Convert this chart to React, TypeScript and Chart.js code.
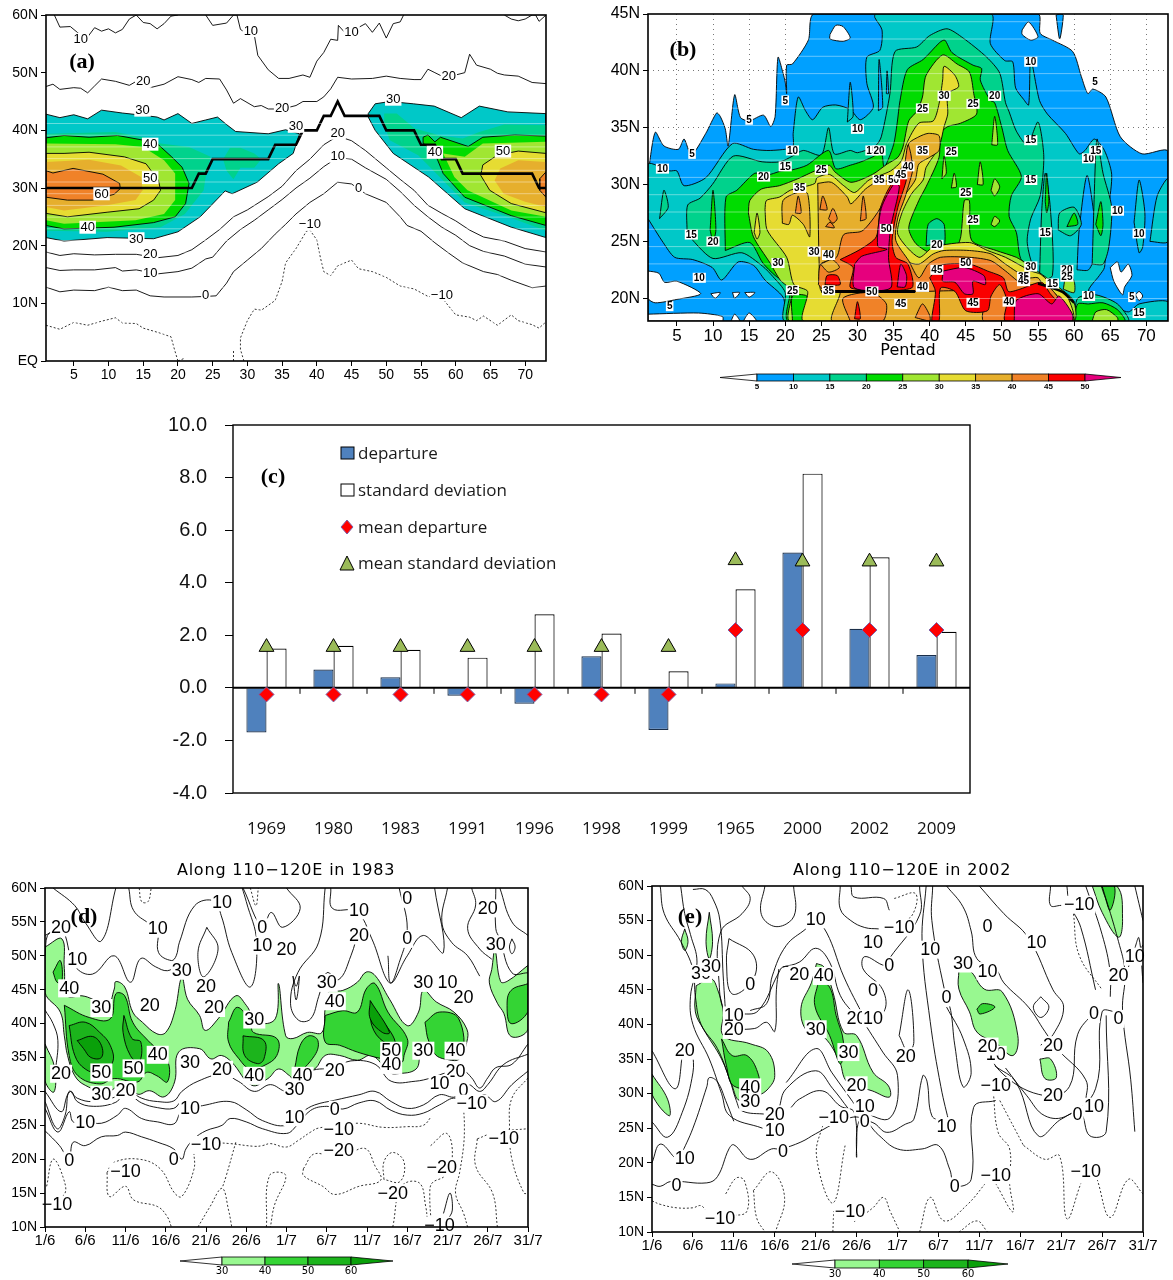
import React, { useEffect, useRef } from "react";
import { Chart, registerables } from "chart.js";
Chart.register(...registerables);

type P = number[][];

// ---------- palette ----------
const WHITE = "#ffffff";
const C5 = "#00a0ff", C10 = "#00c8c8", C15 = "#00d28c", C20 = "#00dc00", C25 = "#a0e632",
  C30 = "#e6dc32", C35 = "#e6af2d", C40 = "#f08228", C45 = "#fa0000", C50 = "#e6007d";
const G30 = "#98f890", G40 = "#34d434", G50 = "#1cb41c", G60 = "#0aa00a";

// ---------- panel (c) ----------
const cYears = ["1969", "1980", "1983", "1991", "1996", "1998", "1999", "1965", "2000", "2002", "2009"];
const cDeparture = [-1.7, 0.7, 0.4, -0.3, -0.6, 1.2, -1.6, 0.17, 5.15, 2.25, 1.25];
const cStd = [1.5, 1.6, 1.45, 1.15, 2.8, 2.07, 0.63, 3.75, 8.15, 4.97, 2.13];
const cMeanDep = [-0.25, -0.25, -0.25, -0.25, -0.25, -0.25, -0.25, 2.2, 2.2, 2.2, 2.2];
const cMeanStd = [1.55, 1.55, 1.55, 1.55, 1.55, 1.55, 1.55, 4.85, 4.8, 4.8, 4.8];
const cLegend = ["departure", "standard deviation", "mean departure", "mean standard deviation"];

// ---------- panel (a): climatological section, pentad vs latitude ----------
const a30L: P = [[1,42.8],[3,42.2],[5,42.7],[7,42],[9,43.5],[12,43],[15,42.6],[17,42.3],[18,41.8],[20,42.9],[22,41.2],[24,41.8],[25.7,42.3],[27,41],[28.3,39.8],[33,39.4],[35.5,40.1],[37.5,39.4],[36.6,36],[34.5,34.2],[31.4,31],[27.8,29],[26.8,29.5],[23.2,25],[20,22.4],[16.5,21.2],[9.8,21.4],[3.6,20.8],[1,21.4]];
const a35L: P = [[1,39.4],[11,39.7],[15,38.8],[17.5,37.7],[21.6,37.1],[24.7,35.4],[24,32],[23.7,29.6],[21,25.5],[17.5,23.2],[9.8,22.4],[1,22.6]];
const a35Patch: P = [[26.5,35],[27.5,37],[29,37],[31,36],[32,35],[31,33.5],[29,33.5],[28,31.5],[27,33]];
const a40L: P = [[1,38.7],[3.6,39.1],[7.2,38.8],[11.3,39.1],[15,38.3],[17,37.7],[19.1,35.4],[20.6,33.6],[21.6,30.8],[21.1,27.3],[19.6,25],[16.5,24],[10.8,23.2],[3.6,22.9],[1,23.5]];
const a45L: P = [[1,37.7],[11,37.6],[15,37.1],[18,34.8],[19.6,32.5],[19.6,27.9],[18,25.5],[13.9,24.4],[3.6,23.8],[1,24.4]];
const a50L: P = [[1,36],[3.6,36],[7.2,36.2],[12.3,35.4],[15.4,34.2],[17.2,31.3],[17.5,29.6],[16.5,27.9],[14.4,26.4],[9.8,25.8],[4.1,25],[1,25.6]];
const a55L: P = [[1,34.5],[7.2,34.9],[11.8,33.9],[14.7,31.9],[14.9,29.6],[13.9,27.9],[9.8,27],[3.6,26.1],[1,26.7]];
const a60L: P = [[1,33],[2,32.6],[4.9,33.4],[9.2,32.4],[11.6,30.8],[11.7,29.9],[10.8,28.9],[7.7,27.9],[4.1,27.9],[1,28.4]];
const a30R: P = [[47.4,42.9],[48.4,44.6],[50.5,45],[53.9,44.6],[56.9,44.2],[60.8,42.2],[63.4,44.2],[67.5,43.2],[73,42.9],[73,21.4],[68,23.2],[61.3,26.4],[56.1,31.9],[51,36],[48.4,40],[47.4,42.3]];
const a35R: P = [[49.7,42.9],[51.5,42.9],[54.1,40.3],[57.7,39.1],[61,38.6],[63.4,39.7],[67,41],[73,40.9],[73,22.6],[68,24.8],[61.3,27.5],[57.7,31.9],[54.6,35.7],[50.5,38.3],[49.7,41]];
const a40R: P = [[55.3,38.8],[56,39.2],[57,38],[57.8,38.8],[61.8,37.2],[63.9,38.8],[68.5,39.2],[73,39],[73,23.5],[68,25.2],[61.3,28.4],[58.2,32.5],[57,36],[55.3,37.8]];
const a45R: P = [[58.2,36],[61.3,35.4],[63.9,37.7],[73,38],[73,25],[68,26.1],[61.7,29.6],[59.8,31.9]];
const a50R: P = [[73,36],[69,36.4],[66,35.7],[63.9,34],[63.6,32.2],[64.9,29.6],[68,27.3],[73,25.7]];
const a55R: P = [[73,34.5],[69,34.8],[66.4,33.4],[65.6,31.3],[66.9,29],[70,27.6],[73,26.7]];
const a60R: P = [[73,32.8],[72.1,31.6],[72.1,29.6],[73,28.4]];
const aLines10: P[] = [
  [[2.2,60],[3,57.9],[4.5,58],[6,56.5],[7,56.2],[8,57.8],[9,57.2],[10,57.6],[11,56.9],[12,57.5],[13,59.3],[14,60],[15,58.7],[16,58.5],[17,57.6],[18,58.5],[19,59.8],[20,60]],
  [[24,60],[25,58.2],[27,58.6],[28,60],[28.5,60],[29,57.5],[30,56.7],[31,56.5],[31.5,53],[33,50.5],[34.5,49],[36,49],[38,49.6],[39,49.2],[40,52],[41,53.5],[42,55.8],[43,55.6],[43.1,58.2],[44,57],[45.5,57.5],[47,58.5],[48,57],[49,58.6],[50,56],[51,58.5],[52,58.8],[52.5,60]],
  [[67,60],[68,59.3],[69,59],[70,59.3],[71,60],[71.5,60],[72,58.9],[73,60]],
  [[1,16.2],[3,15.7],[5,15.8],[8,15.8],[11,16.2],[12,15.6],[14,15.8],[17,15.1],[20,15.5],[22,16.1],[24,17.7],[25,18],[27,20.8],[29,22.8],[31,24.4],[33,26.2],[35,28],[37,30],[39,31.7],[41,33.7],[43,35.3],[45,35],[47,33.5],[50,31.5],[52,29.4],[54,27],[56,25],[58,23.2],[60,21.8],[62,20],[64,19],[67,18.2],[70,16.8],[73,16.3]],
];
const aLines20: P[] = [
  [[1,47.6],[2,48],[3,47.1],[5,47.4],[6,47.3],[7,46.5],[8,47.7],[9,48.9],[11,48.5],[13,47.8],[14,48.5],[15.5,49],[16,47.4],[18,48],[20,49.3],[22,48.8],[23,48.3],[24,49],[26,48.9],[27,47],[28,44.7],[29,45.5],[31,44.1],[32,44.3],[33,43.7],[35,43.7],[37,44.3],[38,45],[40,45],[41,45.8],[42,47.2],[43,49.2],[45,48.9],[48,49],[50,49.4],[52,49],[54,48.8],[55,48.8],[56,50.6],[57,50],[58,49.4],[60,49.6],[61.3,50],[62,53.2],[63,51.3],[65,50.6],[66,49.9],[67,49.6],[69,49.4],[71,48.3],[73,48.1]],
  [[1,18.9],[3,18.3],[5,18.6],[8,18.4],[11,18.5],[14,18.5],[17,17.9],[20,18.3],[22,19.3],[24,21],[26,22.8],[28,25],[30,26.2],[33,28.5],[35,30.3],[37,33],[39,35],[41,37.5],[43,39],[45,38.2],[47,36.5],[50,33.5],[52,31.5],[54,29.6],[56,27],[58,25.6],[60,24.3],[62,22.7],[64,21.5],[67,20.8],[70,19.5],[73,18.9]],
];
const aLine0: P = [[1,12.8],[3,12],[5,12.3],[8,12.2],[10,12.8],[12,12.2],[14,12.3],[16,11.3],[18,11.1],[22,11.1],[24,11.2],[25.5,11.3],[27,13.5],[28,15.5],[30,17.5],[32,19.5],[34,22],[35.5,23.7],[37,25.5],[39,27.5],[41,29],[43,31],[45,30.7],[47,29],[50,27.5],[52,25],[53,23.5],[55,22.5],[57,20.5],[59,18.7],[61,17],[64,15.5],[66,15],[68,14],[71,12.7],[73,13]];
const aNeg: P[] = [
  [[1,6.2],[3,5.5],[5,6.7],[7,6.2],[9,6.9],[11,7.5],[12,6.6],[14,6.5],[15,5.7],[17,5],[19,4.2],[19.5,2],[20,0]],
  [[29.5,0],[29,2],[29,4],[30,7],[31,9],[32,8.8],[34,10.5],[35,13.8],[35.5,17],[37,19.5],[38.5,22.5],[39,22.7],[40,21],[40.5,18],[41,15.5],[42,14.8],[43,16.5],[45,17.5],[46,16],[48,15.5],[50,14.5],[52,13],[54,12.5],[56,11.2],[58,11],[60,8],[62,7.6],[63,7],[64,7.8],[66,6.2],[68,8],[69,7],[71,6.3],[72,5.7],[73,6.8]],
  [[28,0],[28,2]],
  [[20,0],[21,0.5]],
];
const aOnset: P = [[1,30],[22,30],[23,32.5],[24,32.5],[25,35],[33,35],[34,37.5],[37,37.5],[38,40],[40,40],[41,42.5],[42,42.5],[43,45],[44,42.5],[49,42.5],[50,40],[54,40],[55,37.5],[57,37.5],[58,35],[60,35],[61,32.5],[71,32.5],[72,30],[73,30]];
const aLabels: (number | string)[][] = [[6,55.8,"10"],[30.5,57.3,"10"],[45,57.1,"10"],[15,48.5,"20"],[35,43.9,"20"],[59,49.4,"20"],[14.9,43.5,"30"],[51,45.4,"30"],[37,40.7,"30"],[16,37.6,"40"],[57,36.2,"40"],[7,23.2,"40"],[16,31.8,"50"],[66.8,36.4,"50"],[9,29,"60"],[14,21.2,"30"],[16,18.5,"20"],[16,15.3,"10"],[24,11.5,"0"],[43,39.5,"20"],[43,35.5,"10"],[46,30,"0"],[39,23.7,"−10"],[58,11.5,"−10"]];
const aLatTicks = [0, 10, 20, 30, 40, 50, 60];
const aPentTicks = [5,10,15,20,25,30,35,40,45,50,55,60,65,70];

// ---------- panel (b): pentad vs latitude ----------
const b5: P = [[1,30.9],[2,34.6],[3.2,33.4],[5.2,33.1],[6,34],[7,32.6],[9,34.5],[10.5,36.3],[11,36],[11.7,34.9],[12.1,33.4],[13,37.9],[13.8,35.9],[15,35.6],[17,36.1],[18,35.1],[18.6,36],[19,41.2],[19.7,39.8],[20,39],[20.2,38],[20.2,40.5],[21,40.6],[23.2,42.7],[24,45],[55,45],[55.3,43.3],[57,42.7],[59.8,41.7],[61,39.5],[61.9,38],[62.6,38.4],[64.4,37.7],[66.4,34.2],[69.4,32.7],[73,32.9],[73,18],[1,18]];
const bWhites: P[] = [
  [[1,22.4],[2.5,22.2],[3.3,21.4],[5,21.5],[8.3,20.4],[5,19.9],[2,19.6],[1,20]],
  [[1,18.6],[8,18.7],[11.3,18.4],[11.3,18],[1,18]],
  [[26.2,43.2],[27,44],[28,43.9],[29,42.9],[28,42.6],[26.2,42.8]],
  [[52.8,43.6],[53.7,44.3],[55,43],[54,42.7],[52.8,43.2]],
  [[65,22.7],[66,23.2],[66.5,22.3],[67.5,23],[68,22],[67,21],[66.7,20.3],[65.5,21.5]],
  [[9.7,20.4],[11,20.5],[10.3,20]],[[12.7,20.5],[13.7,20.5],[13,20]],[[14.4,20.5],[15.8,20.5],[15,20.1]],
  [[12.5,18],[13,18.6],[13.7,18]],[[14.2,18],[15,18.7],[16,18]],[[68.5,20.3],[69,20.6],[69.5,20.2],[69,19.8]],
];
const bBlueBits: P[] = [[[57.5,44.9],[58,45],[58.5,44.9],[58,42.8]],[[32.9,36.5],[33,41],[33.5,36.8]],[[34,38],[34.1,40],[34.3,38]],[[60.4,22.5],[60.7,26],[61.8,30.8],[63,26],[63,24],[62,22.5]]];
const b10: P = [[1,27],[1,31.8],[4,31.2],[5,31.2],[6,29.9],[9,30.6],[12.7,33.6],[15.6,33.1],[18,33],[21,33.3],[21.1,34.5],[21.8,37.7],[22.8,36.5],[23.8,35.7],[25.2,36.8],[27,37],[29,36.6],[30.4,35.7],[32.2,36.8],[31.3,38.9],[31.3,41.2],[33.1,41.8],[33.4,43.6],[32.4,44.7],[32.5,45],[48.5,45],[48.4,42.4],[50.4,40.9],[51.5,40.8],[51.9,38.5],[53,37.5],[53.7,37],[54,41],[55.2,37.4],[56.3,36.2],[58.8,34.5],[60.7,32.7],[61.5,33],[62.8,34],[64.2,33],[65.2,30.9],[64.8,28],[64.4,25],[64.2,22.7],[63.5,22],[62,20.6],[65,19.5],[67.5,18.8],[69,19.5],[73,19.7],[73,18],[20.7,18],[19.7,20.1],[17.2,21.6],[15.6,22.9],[13.5,23.2],[11.2,21.6],[9.9,22.7],[7.2,23.4],[4.7,23.6],[3.1,24.9]];
const b10Bits: P[] = [[[68.3,26.7],[69,30.4],[69.8,27.5],[69.5,24.5],[69,24]],[[70.5,25],[71.5,29],[73,30.5],[73,25]],[[28.6,35.5],[29,39],[29.4,36]]];
const b15: P = [[6.4,26],[6.5,28.2],[8.2,28.8],[9.9,30],[12.8,32.5],[16.8,32],[19.3,32],[21,32.5],[22.5,33],[25,32.6],[26,35],[26.8,32.7],[29,33],[30,32.8],[32.5,33.4],[33.3,34.2],[34.5,38],[35.2,41.7],[38.2,42.1],[40,43.1],[42.4,43.7],[44.6,42.9],[47.9,41.2],[49.7,39.8],[50.5,37.2],[51,36.4],[52,34.7],[53.5,33.5],[55,35.5],[55.8,32.5],[55.3,29],[54,27],[53.5,25],[54.2,23],[55.5,21.7],[57,21],[56.5,19],[56,18],[20,18],[20,20.5],[18.3,21.9],[16.9,22.8],[14,24],[10,23.5],[7.2,25.1]];
const b15Bits: P[] = [[[2.6,27],[3.2,29.5],[3.8,28]],[[62.5,23],[63,33],[63.2,34],[64,31],[65.2,28],[64.8,24.5],[64,23]],[[55.2,21.5],[55.5,27.5],[56,31],[56.7,28],[57,22]],[[57.8,26],[58,27.5],[60,28],[61,26.5],[59.5,25.5]],[[60,18],[60.5,20],[63,20.3],[66,19.5],[67.5,18]]];
const b20: P = [[11.7,24.2],[11.8,28.9],[13.3,29.5],[15.8,31],[17.3,30.8],[19.5,31.2],[21,31.3],[23,31.7],[26,33],[27,31.4],[29,31.7],[30.5,32],[32,32.4],[33.3,32.8],[33.7,31.5],[35,33.5],[35.5,35.4],[35.9,37.4],[36.9,40.1],[39.1,41],[41.4,42.5],[42.1,42.7],[43.1,41.6],[46,40.5],[47.2,40.2],[47,39.2],[48.4,37.4],[49,37.2],[50,35],[50.8,33],[52.7,30.7],[51.3,29],[51,27.2],[52,25.8],[52.6,23.5],[54,22.8],[56.2,21.5],[57,21],[59.5,20],[60.5,18],[20.5,18],[20.7,21],[18.6,22],[16.9,23.1],[15.1,24.9]];
const b20Bits: P[] = [[[9.6,26],[10,29.5],[10.4,26],[10,25]],[[59,26.3],[60,27.5],[60.5,26.5]],[[63,26.5],[63.7,28.5],[64,26.5],[63.7,25.5]],[[56,28.5],[56.2,31],[56.5,28.5],[56.2,27.5]],[[60,18],[60.5,19.5],[62,19.5],[64,19.6],[66,19],[67,18]]];
const b15Holes: P[] = [[[39.5,24.6],[39.8,26.5],[41,27],[42,26.5],[42,24.5],[41,24.8]],[[21.5,18.5],[22.5,19.8],[24,19.6],[24,18.4]]];
const b25: P = [[14.9,27.5],[15.1,28.6],[16.7,29.6],[19.2,29.9],[21.7,30.5],[24.1,31.2],[26.1,31.7],[26.9,31.1],[29.1,30.2],[32.1,30.9],[34.1,31.8],[35.6,32.4],[36.3,33.3],[37.1,35.6],[38.3,36.5],[39,37.7],[39.5,39.6],[41.8,41.4],[43.8,40.6],[45.5,39.9],[46.1,38],[46.5,36.2],[44.3,35.4],[42.5,35.1],[41.5,34.5],[41.3,32.4],[39.5,29.8],[38.5,28.6],[37.1,26.2],[38.1,24.8],[40.5,23.9],[43.5,24.3],[44.3,25.4],[44.8,28.6],[45.5,28.6],[45.8,25.1],[49.2,24.2],[52,23.6],[53.5,23],[56.2,21.8],[57.4,21.2],[59.9,19.8],[59.9,18],[20.7,18],[20.9,20.6],[19.3,21.6],[17.9,23.1],[15.6,25.4]];
const b25Bits: P[] = [[[46.6,30],[47,32],[47.4,30]],[[48.5,29.5],[49,30.5],[49.7,29.8],[49,29]],[[48.5,26.5],[49,27.2],[49.7,26.8],[49,26.3]],[[48.6,33.5],[49,36],[49.4,33.5]],[[43,29.7],[43.4,31],[43.7,29.8]],[[41.7,30.5],[42,32.5],[42.3,31]],[[58.5,20.8],[59,22.3],[60,21.5],[60,20.5]],[[62.5,18],[63,18.8],[64.5,19],[66,18.3],[66,18]]];
const b20Patches: P[] = [[[21,18],[21,20.2],[23,20.2],[23.5,19],[26,18.5],[26,18]],[[37,18],[37,20],[38.5,20],[38.5,18]]];
const b30: P = [[17.2,27.8],[17.4,28.6],[19.2,28.9],[20.7,29.5],[22.6,29.8],[24.1,30.1],[24.4,30.6],[26.1,30.9],[28.1,29.9],[29.6,29.3],[31.6,30.4],[34.6,31.2],[36.1,32.1],[36.8,33.6],[38.5,35.4],[40.5,35.6],[41.3,37.1],[41.8,39.2],[42,40.4],[43.5,39.6],[44,38.6],[42.5,38],[42.5,36.2],[42,35.1],[41.3,33.3],[39.5,31.5],[39.1,30.4],[37.5,29.2],[36.1,27.4],[35.6,25.6],[38.5,23.6],[40.5,24.5],[45.5,24.9],[48,24.2],[50.5,23.6],[54,22.4],[55.4,22.1],[57.4,20.9],[58.9,20.4],[59.7,18],[22.6,18],[23.1,20.6],[21.2,21.2],[20.2,23.6],[17.5,26]];
const b30Bits: P[] = [[[15.7,25.8],[16.1,27.5],[16.5,25.8],[16.1,25.2]]];
const b35Blob: P = [[19.6,26.6],[19.7,28.6],[21.7,29.3],[23.1,29.2],[23.4,25.4],[22.5,26.5],[21,27.3],[20.5,26.5]];
const b35: P = [[24.5,30.1],[26.4,30.2],[28.6,28.9],[29.1,28.3],[31.1,29.6],[32.6,30.2],[34.6,30.4],[36.6,31.5],[37.1,33.6],[38.5,34.2],[39.8,34.5],[41.3,34.3],[41.3,33],[40,32.4],[38.5,31.8],[38,30.4],[36.1,28.6],[35.1,26.2],[34.8,24.5],[36.6,23.3],[38.5,23],[40.5,23.9],[42,24.2],[45.5,24.2],[48.5,23.9],[50.5,23],[53.5,21.8],[55,21.8],[55.9,20.9],[57.4,20.4],[59.4,18.3],[59.7,18],[26.6,18],[27.6,20.6],[25,20.6],[24.7,23]];
const b40: P = [[24.6,21.2],[24.9,23],[27.1,23.6],[28.1,25.6],[30.6,25.9],[32.3,27.1],[34.1,28.9],[35.1,30.2],[37,32.4],[37.8,31.8],[36.6,28.9],[35.6,27.1],[35.3,25.1],[37.1,23.3],[38.5,21.8],[39.8,23],[41.5,23.6],[45.5,23.6],[48.5,23.3],[50.5,22.4],[53,21.2],[56,21.2],[57.4,20.4],[59.9,18],[47.5,18],[47.5,20.4],[38.5,20.6],[25.6,20.6]];
const b40Bits: P[] = [[[29,18],[28,20],[32,20.5],[34,19.5],[33.5,18]],[[38,18.3],[39,19.5],[40,18.5],[40,18]],[[36.5,31.5],[37,33.5],[37.5,32]],[[21.4,27.5],[21.8,29],[22.2,27.5]],[[24.8,27.8],[25.2,29],[25.8,27.8]],[[26,27],[26.6,27.9],[27.2,27],[26.6,26.6]],[[25.6,26.3],[26.2,26.7],[26.8,26.2]],[[30.4,26.8],[30.8,29],[31.2,27]]];
const b35Lens: P = [[24.9,23],[26.5,23.4],[27.5,22.7],[26,22.3]];
const b45A: P = [[27.6,23.4],[30.4,24.3],[32.6,25.4],[33.2,28],[34.8,30.1],[36.8,30.7],[35.6,28],[34.8,25.1],[35.3,23.6],[37,23],[37.5,20.9],[29.1,20.9],[29.4,22.7]];
const b45B: P = [[40,21.8],[41.5,22.9],[45.5,23],[48,22.4],[50.2,21.8],[50.9,20.6],[52.5,20.8],[55.5,21.4],[56.7,20.4],[59.8,18],[50.5,18],[50.7,19.8],[49.7,21.2],[48.5,20.2],[48,18.9],[45,18.9],[43.5,20.6],[41.5,20.9],[41.3,18],[40.3,18],[40.8,20.6]];
const b45Bits: P[] = [[[25.5,21.2],[25.8,22],[27.2,22],[27.6,21.2]],[[29.6,18.2],[30,19.7],[30.4,18.2]]];
const b50A: P = [[29.6,23],[30.6,23.7],[34.1,24.3],[32.8,24.6],[33.3,27.9],[35.1,30.1],[35.8,29.8],[34.6,26.2],[34.3,23.6],[34.6,20.9],[29.6,20.9]];
const b50B: P = [[41.9,22.4],[44.8,22.7],[47.5,22],[47.7,21.2],[46,21.5],[46,20.4],[44.8,20.4],[43.5,21.4],[41.8,21.5]];
const b50C: P = [[51.7,18],[52,19.8],[55,20.4],[56.9,19.5],[57.9,20.2],[59.7,18.7],[59.7,18]];
const b50D: P = [[35.5,21],[36,23],[36.8,22],[36.6,21]];
const bBand: P = [[25,20.6],[38,20.6]];
const bBand2: P = [[55,21.3],[57,20.9],[58.5,20.5],[60,19.6]];
const bLabels: (number | string)[][] = [[4,19.3,"5"],[7.1,32.7,"5"],[15,35.7,"5"],[20,37.4,"5"],[62.9,39,"5"],[68,20.1,"5"],[3,31.4,"10"],[8.1,21.8,"10"],[21,33,"10"],[30,34.9,"10"],[54,40.8,"10"],[62,32.3,"10"],[66,27.7,"10"],[69,25.7,"10"],[62,20.2,"10"],[7,25.6,"15"],[20,31.6,"15"],[54,33.9,"15"],[54,30.4,"15"],[56,25.8,"15"],[63,33,"15"],[57,21.3,"15"],[69,18.7,"15"],[32,33,"15"],[10,25,"20"],[17,30.7,"20"],[33,33,"20"],[49,37.8,"20"],[41,24.7,"20"],[59,22.5,"20"],[25,31.3,"25"],[39,36.7,"25"],[46,37.1,"25"],[43,32.9,"25"],[45,29.3,"25"],[46,26.9,"25"],[21,20.7,"25"],[59,21.9,"25"],[42,37.8,"30"],[19,23.1,"30"],[24,24.1,"30"],[54,22.8,"30"],[22,29.7,"35"],[39,33,"35"],[35,30.4,"50"],[33,30.4,"35"],[26,20.7,"35"],[53,21.9,"35"],[37,31.6,"40"],[26,23.8,"40"],[39,21,"40"],[51,19.7,"40"],[36,30.9,"45"],[41,22.5,"45"],[46,19.6,"45"],[36,19.5,"45"],[53,21.5,"45"],[34,26.1,"50"],[45,23.1,"50"],[32,20.6,"50"]];
const bLatTicks = [20, 25, 30, 35, 40, 45];
const bGridLat = [35, 40];
const bBarLevels = ["5","10","15","20","25","30","35","40","45","50"];
const bBarColors = [C5,C10,C15,C20,C25,C30,C35,C40,C45,C50];

// ---------- panel (d): along 110-120E in 1983, day index from 1 June ----------
const dayTicks = [0,5,10,15,20,25,30,35,40,45,50,55,60];
const dayLabels = ["1/6","6/6","11/6","16/6","21/6","26/6","1/7","6/7","11/7","16/7","21/7","26/7","31/7"];
const latTicks10 = [10,15,20,25,30,35,40,45,50,55,60];
const d30Main: P = [[0,51.3],[2.1,52.5],[2.4,48.1],[2.8,44.1],[4.6,44.1],[5.9,43.6],[7.7,42.4],[8.6,45.1],[8.8,46.2],[9.9,45.4],[10.9,41.7],[12.1,40.2],[13.9,38.5],[15,38.7],[16.1,41.7],[17,46.8],[17.7,43.6],[19.2,41.2],[19.9,39],[21.5,40.7],[23.7,44.1],[25,42.7],[26.4,40.2],[28.6,40.7],[29,45.9],[29.9,38.2],[30.8,37.8],[32.6,38.7],[34.4,38.7],[34.8,42.2],[35.2,44.6],[37,44.9],[38.8,46.1],[39.9,47.6],[41,47.1],[42.8,43.6],[45,39.7],[46.4,41.7],[47,44.9],[48.6,43.2],[50.8,41.7],[52.4,39.2],[52.4,37.3],[51.5,34.8],[50.1,34.7],[48.1,35.8],[46.8,35.8],[46.1,33.3],[43.7,32.6],[42.8,32.8],[40.6,35.3],[38.8,34.6],[36.6,35.3],[34.8,35.3],[33.5,33.3],[30.8,31.9],[30.4,32.3],[29,33.3],[27.7,31.9],[25.7,30.9],[23.2,34.3],[21.9,35.3],[20.6,34.8],[19.2,36.3],[16.6,35.8],[16.1,31.4],[14.8,29.2],[13,30.1],[11.5,29.6],[9.9,31.4],[7.7,29.9],[5,30.9],[3.7,32.3],[2.8,35.3],[2.4,38.2],[1.9,41.7],[0,44.6]];
const d30Left: P = [[0,37],[1.2,33.5],[1.1,29.9],[0,31.6]];
const d30Right: P = [[60,48.6],[57.5,46.3],[56.6,46.2],[55.9,50.8],[55.5,48],[55.2,46],[56.2,43],[57,41.5],[57.9,38.1],[60,39.2]];
const d40: P[] = [
  [[2.4,42.7],[5.5,40.9],[8.1,40.7],[8.8,44.4],[9.9,44.1],[10.9,40.2],[12.8,37.5],[15.2,34.6],[15.2,31.4],[13.9,32.3],[12.6,32.8],[11.5,31.4],[8.6,31.9],[6.8,31.1],[4.1,32.3],[3,35.3]],
  [[1,47.6],[1.9,49.3],[2.1,46.1],[1.5,46.1]],
  [[22.8,40.2],[23.9,42.4],[25.5,40.2],[25.9,38.7],[28.8,37.8],[28.8,35.3],[27.2,33.8],[25.5,33.3],[24.1,34.8],[22.8,37.3]],
  [[31,33.3],[31.7,36.8],[32.8,38.2],[33.9,37.5],[33.5,35.3],[31,32.3]],
  [[34.8,41.2],[37,41.9],[38.8,41.7],[39.9,45.1],[41,45.9],[42.6,41.7],[45,37.8],[44.6,35.3],[44.3,34.3],[41.9,34.8],[38.8,35.8],[36.6,36.8],[34.8,37.3]],
  [[47.2,40.2],[49,41.7],[51.4,40.7],[51.7,35.3],[49,35],[47.7,37.3]],
  [[60,45.9],[57.9,44.9],[57.4,42.7],[57.9,40],[60,41.8]],
];
const d50: P[] = [
  [[3,39.7],[5,40.2],[6.8,38.7],[8.1,36.8],[8.4,34.3],[6.8,32.8],[5,33.3],[3.7,35.3]],
  [[9.8,41.2],[10.8,37.8],[11.9,37.3],[11.7,34.3],[10.6,35.3],[9.7,38.7]],
  [[24.6,38.2],[27.2,37.5],[27.2,34.8],[26.4,34.1],[24.8,35.3]],
  [[40.6,42.7],[41.5,41.2],[43.5,37.3],[42.1,37.3],[40.6,39.7]],
];
const d60: P[] = [
  [[4,37.5],[5.9,38.1],[7,36.8],[7,35],[5.7,35],[4.8,36.3]],
  [[40.4,43.4],[42.8,38.7],[41.9,38.7],[40.4,40.7]],
];
const dSolid: P[] = [
  [[1,60],[3.7,57.4],[5,54.9],[7,52.2],[8.8,60]],
  [[0,53],[2,54],[3.7,48.5],[5.9,47.3],[8.6,50],[10.6,46.1],[11.9,49.6],[13.7,48.4],[15.2,47.8],[16.4,48.6]],
  [[10.4,60],[11,56.7],[13,54.7],[14,54],[14.1,50.5],[15.7,49.3],[16.3,50],[16.7,52],[18.6,57.4],[21,58.1],[21.9,55.9],[23.2,50.5],[25.5,45.4],[26.3,52],[25,58],[24.5,60]],
  [[20.1,54.2],[21.5,51],[19.7,46.9],[19,50.5],[20.1,54.2]],
  [[24.6,60],[27,54.2],[28.1,56.4],[29.5,54.2],[31.7,57],[30,60]],
  [[34.8,60],[34,52],[31.4,47.5],[30.5,43],[31.5,40.5],[33,40.7],[34,44],[35,47.5],[36.5,46.5],[38,50],[39,54]],
  [[35.5,60],[35.7,57],[38.7,56.5],[40.6,52.5],[42.8,46],[44,49],[45,54],[44,60]],
  [[42.6,50],[43,46],[45,50],[47,53],[49.5,50.5],[48.4,60]],
  [[50,60],[49.3,55],[50.5,52],[52.5,50],[54,47]],
  [[53,60],[53.5,57.5],[52.5,54],[54,51],[55.5,49.5]],
  [[56.5,60],[58,55],[60,53]],
  [[56,60],[56,54],[56.5,52.5],[58,47.5],[60,47.5]],
  [[58,52.5],[58.4,51.3],[58,50.3],[57.7,51.3],[58,52.5]],
  [[0,50],[0.3,53],[2,54]],
  [[30.8,47],[31.2,45.5],[31.6,47],[31.2,43.5],[30.8,47]],
  [[0,42],[1,40],[1.6,37.5],[1.3,33]],
  [[0,30],[2,27],[2.8,29.5],[3.3,30],[4,28.5],[6,27.8],[8.8,28.4],[10,29.8],[12,28.3],[14,27.6],[16,27.5],[17,28.5],[18,28]],
  [[0,28.5],[1.5,24.5],[2.5,26.5],[3,30],[4,29],[6,28.5],[9,29.3],[10,30.3],[12,29],[14,28.5],[16,28.6],[17,30],[19,31.5],[22,32.5],[24,31.5],[26,30],[28,31],[30,30],[31,31],[33,33],[36,33.5],[38,34.5],[41,34],[43,31.5],[46,31.5],[48,32],[50,32.8],[52,33],[53,32],[54,30.5],[55,32],[56,33.5],[58,34],[60,37]],
  [[0,27.5],[1.6,24],[3,27],[3.5,25.5],[5,25.6],[7,25.3],[9,26.5],[10,27.5],[12,26],[14,25.5],[16,25.2],[17,27],[20,28],[23,28.5],[25,27.3],[27,25.7],[30,25],[32,27],[33.5,28],[36,28.7],[39,29.5],[41,30],[43,28.5],[45,27.5],[47,28],[49,29.5],[51,29.2],[52.5,31],[54,30],[55,31],[57,34],[60,35.5]],
  [[0,24.2],[1.8,22],[3,20],[3.5,22.5],[5,22],[7,23.3],[9,23.5],[10,24],[12,23.3],[14,22.5],[16,21.5],[17,20],[17.5,21.5],[18.5,23],[20,24.2],[22,25],[23,26],[25,25.5],[27,24.5],[30,23.8],[31.3,25],[33,27.2],[35,27.8],[37,27.4],[39,28.3],[41,28.6],[43,27.2],[45,26.5],[47,26.8],[49,28],[51,29],[52.5,27.5],[54.5,29.5],[56,28.5],[58,31],[60,33]],
  [[49.5,12],[50.3,15],[50.6,12.5],[50,11]],
];
const dDashed: P[] = [
  [[18.6,22.5],[20,22.5],[23,22.3],[26,21.9],[27,22],[28,22.3],[30,21.8],[31.5,22.8],[33,24],[34,24.6],[37,25],[39,25.3],[42,24.7],[45,24.8],[47,25],[48,26.3]],
  [[0.2,16],[1,20],[2.2,17.5],[2.4,14.8],[0.2,14]],
  [[7.7,18],[8,14.5],[10,16],[11,14],[14,13],[15.2,11.5],[15.7,10]],
  [[7.7,18],[8.5,19.5],[11.7,20],[14.3,18.6],[16.1,15],[17,14.5],[18.5,18.5],[18.5,21]],
  [[19,10],[20.5,13],[22,15.7],[22.8,12.5],[23.2,10]],
  [[23.7,22.5],[22.5,17.5],[22,15.7]],
  [[27.5,10],[27.9,17.6],[29.9,17.6],[28.5,13.2],[28,10]],
  [[32.1,18.6],[33.5,20.8],[36.6,20.1],[39.7,21.6],[41,19],[41.7,16.9],[39,16],[36,14.8],[34.5,16],[32.1,17.6],[32.1,18.6]],
  [[42.1,17],[42.1,19.6],[43.2,21],[44.6,19.6],[44.1,16.7],[42.1,17]],
  [[43.2,10],[44.3,16],[46.5,16.5],[47.3,13],[47.5,11]],
  [[47.9,22],[49.9,23.8],[50.6,20.5],[49.7,17.6],[48.1,16.5],[47.8,15],[48,10]],
  [[52,27.5],[52.1,25],[52,22],[51.5,18],[51,15],[52,12],[52.5,10]],
  [[53.7,23],[56,24],[60,24.5]],
  [[53.7,23],[53.5,19],[55.6,15],[56.2,10]],
  [[60,32],[58,29],[57.7,25],[58,20],[59.5,15],[60,15]],
  [[11.7,60],[12,58],[12.8,58],[13.2,60]],
  [[25.5,60],[26.2,57.4],[26.5,60]],
];
const dLabels: (number | string)[][] = [[2,54.2,"20"],[4,49.5,"10"],[3,45.2,"40"],[7,42.3,"30"],[2,32.6,"20"],[7,32.8,"50"],[11,33.4,"50"],[14,35.4,"40"],[7,29.5,"30"],[10,30.2,"20"],[5,25.4,"10"],[3,19.8,"0"],[10,18.2,"−10"],[1.5,13.3,"−10"],[14,54,"10"],[17,47.8,"30"],[13,42.6,"20"],[18,34.2,"30"],[20,45.5,"20"],[21,42.3,"20"],[22,33.2,"20"],[18,27.4,"10"],[20,22.1,"−10"],[16,20,"0"],[22,57.9,"10"],[27,54.2,"0"],[27,51.5,"10"],[30,50.9,"20"],[26,40.6,"30"],[26,32.3,"40"],[32,32.3,"40"],[31,30.3,"30"],[31,26.2,"10"],[36,27.3,"0"],[36.5,24.4,"−10"],[36.5,21.3,"−20"],[36,33.1,"20"],[36,43.3,"40"],[35,46,"30"],[39,53,"20"],[39,56.7,"10"],[45,58.4,"0"],[45,52.5,"0"],[47,46,"30"],[50,46,"10"],[52,43.9,"20"],[47,36,"30"],[51,36,"40"],[43,36,"50"],[43,33.9,"40"],[51,33,"20"],[49,31.1,"10"],[52,30.1,"0"],[53,28.2,"−10"],[57,23,"−10"],[49.3,18.8,"−20"],[43.2,15,"−20"],[49,10.2,"−10"],[56,51.7,"30"],[55,57,"20"]];

// ---------- panel (e): along 110-120E in 2002 ----------
const e30: P[] = [
  [[5.4,45.6],[7.2,46.6],[8,45.1],[8.7,41.8],[8.7,38.4],[12,37.2],[14.2,36],[15,32.6],[14.2,30.7],[12.9,29.7],[10.7,29],[9.8,31.1],[8.5,35],[6.3,39.3],[5.3,41.8]],
  [[0,32.8],[1.9,29.2],[2.1,26.8],[0,29.9]],
  [[20.1,48.8],[21,48.3],[22.1,44.7],[23.4,38.9],[25,38.4],[27,33.1],[28.9,31.1],[29,29.5],[26.9,30.4],[23.9,31.6],[22.8,35],[20.8,38.4],[19,38.9],[18.2,42.3],[19.5,46.1]],
  [[37.5,47.8],[38.8,47.8],[40.6,45.1],[42.8,44.7],[44.7,38.4],[44.1,35.5],[41.9,37.4],[39.7,38.9],[38.8,41.8],[37.5,45.1]],
  [[47.4,35],[48.7,35],[49.4,32.3],[48,32.2]],
  [[53.8,60],[56.8,60],[57.5,55.3],[57,52.6],[55,56.2]],
  [[7,56.2],[6.6,52],[7,49.5],[7.4,52]],
  [[4,53.8],[3.6,52],[4,50.7],[4.4,52]],
];
const e40: P[] = [
  [[8.5,37.9],[9.8,35.5],[11.6,35.5],[12.9,33.1],[12.9,31.1],[10,31.1],[9.1,34]],
  [[20.3,46.1],[21.7,45.4],[22.5,41.3],[23.4,37.4],[23,34.3],[21.7,38.4],[19.9,42.7]],
  [[39.7,42.2],[40.4,43],[41.9,42.5],[40.1,41.5]],
  [[54.9,60],[56.5,60],[56,56.5],[55.3,58.6]],
];
const eSolid: P[] = [
  [[1,60],[1.5,56],[3.5,52],[5,48],[5.3,44],[6,40],[8,36.5],[9.5,32],[10.3,29],[11,27.5],[14,27]],
  [[3.5,60],[4,56],[4.7,53],[5.5,49],[4.7,44],[5,40],[7,35],[8.5,30],[9.5,26.8],[13.5,25]],
  [[5,59.5],[6.5,59.5],[7.5,58],[8.3,55],[8.7,47],[9,41.5]],
  [[9.4,52.4],[12.4,50],[12.4,46.6],[9.8,44.4],[9.1,49],[9.4,52.4]],
  [[11,60],[12,58.2],[11,56],[8.4,53.4],[8.2,46],[9,41.8],[11,41.5],[13,42],[15.5,47.5],[16,48.3],[17.3,48.3]],
  [[8.7,39.4],[12.5,39.4],[14,40.3],[15,39],[15.2,45],[15.5,48]],
  [[13.8,60],[13.3,56.2],[14.6,54.3],[16.4,54.5],[17.5,56.2],[17.3,60]],
  [[18.8,53.8],[16.4,51.4],[14.7,47],[14,43],[12,42]],
  [[16,48.3],[18,49],[20,51],[21.7,49],[23,44.2],[24.8,41.3]],
  [[20.3,55.3],[21.7,52.4],[23.4,47],[26,40.8]],
  [[16.4,31.6],[20,36.5],[22,33],[24.3,29.2],[25,28]],
  [[15.5,27.8],[16.4,30.7],[20,33.3],[22.1,30.7],[24,27.8]],
  [[17,28],[18,29.2],[20.8,30.4],[23,28.2],[24.7,27.3],[25,20.8],[25.3,26],[27,25.8],[28.7,24.4],[31,25.6],[32,26.3],[33.1,32.6],[33.6,31.8],[34.2,26.8],[35.5,26]],
  [[25.6,27.3],[29.1,26.5],[30,32.6],[28.2,36],[25.6,40.8]],
  [[0,16.9],[1,16.6],[2.3,17.3],[6.7,17.1],[8,18],[9.4,22],[10,22.6],[12,20.5],[14.6,22],[15.7,22],[18.2,23],[20,24.2],[23,26],[25.5,26.5],[27.7,24],[30,22],[33,22],[35,22.5],[36.4,19],[37,16.7],[39,17.6],[39.3,28],[42,29]],
  [[0,20],[1,22.7],[2.8,20.7]],
  [[3.5,21],[5,25],[6.7,31],[7,32.3],[8,31.7],[9,29],[10,26]],
  [[0,25.9],[1.9,23.7],[3.7,27.3],[5,33],[5,36]],
  [[0,36.2],[2.8,30.7],[3.7,35.6],[3.6,37]],
  [[33.5,60],[33,52],[34,40.4],[35.3,31],[36.4,25.3]],
  [[34.3,60],[34.2,55],[35.7,45.2],[36.5,42],[37,37],[38,31],[39,33],[38,38],[36,42.5]],
  [[30.2,38.4],[31.3,45],[32,37.5],[31.3,36],[30.2,38.4]],
  [[32.7,60],[32.7,55.8],[29,49.5],[28.5,48.5],[26,49.8],[25.8,48],[28.2,45],[28.3,41.8],[25.6,40.5]],
  [[23,60],[23,56.7],[24.3,55],[26,54],[27.7,53.8]],
  [[24.3,60],[24.7,58.4],[28.3,58.2],[29,56.5]],
  [[36,60],[38,57],[39,53.5],[39.7,49.5],[42,48],[43,46],[46,42.5],[48,39],[49.5,36.5],[53,32],[53,28.8]],
  [[40,60],[43,56],[46,52.5],[49,45],[50.3,42.5],[49,38.5],[47.5,37]],
  [[40,38],[43,32.7],[48,29.7],[51,31],[52,38.5],[54,41.8]],
  [[43.2,33.7],[45.8,29.7],[48,26.8],[50.7,26.8],[54.2,30.7],[55,41.8],[56.8,41.8]],
  [[41.9,34],[44.5,31.6],[47.2,23.9],[50,26.3],[52.3,27.2],[53.5,23.9],[55.5,24.5],[55.5,41.3]],
  [[48.7,60],[48.7,57.2],[50,57.2]],
  [[50.7,60],[51,57.5],[52.4,54],[54.2,45]],
  [[53,60],[55,53],[56,47.5],[56,44]],
  [[55,60],[57,52],[57.8,47.5],[57.5,42],[58.5,32],[59,24.5]],
  [[59,60],[60,55]],
  [[59.3,50],[60,51.5]],
  [[58,47.5],[59,51],[59.5,52.5],[60,46]],
  [[47.5,44],[48.5,42.5],[47.5,41],[46.6,42.5],[47.5,44]],
];
const eDashed: P[] = [
  [[0,14.5],[1,14],[3,13.5],[5,13.5],[6,13.8],[7,12.7],[8.5,13]],
  [[9,15.5],[10.3,17.8],[11.3,17.4],[11.6,13],[9.5,12.3]],
  [[12.4,16],[14.6,18.7],[16.2,15],[15.1,10]],
  [[12.4,16],[12.8,12],[13.8,10]],
  [[21,26],[20.1,21],[22.1,14.2],[23.6,22.5]],
  [[22.1,10],[22.2,13]],
  [[24.7,11.5],[27,13.5],[28.3,15],[29.1,13],[30.3,10]],
  [[32.7,10],[34,15],[35.7,11.6],[38.4,13.8],[41,17.4]],
  [[37.5,10],[39.7,11.6],[41,10]],
  [[41.7,30.2],[42.3,24.4],[43.7,22],[43.7,17],[44.1,12.9],[42,17]],
  [[45.4,22.5],[48,20.5],[49.8,21],[50.7,11.9],[52.4,17]],
  [[54.4,17.6],[56,12.1],[58.2,17.6],[60,15.5]],
  [[42.5,29],[45.4,22.5]],
  [[51.5,56],[52.2,50],[55,45]],
  [[29.6,58.2],[32.2,58.9],[31.8,55.8],[30,54.5]],
];
const eLabels: (number | string)[][] = [[6,47.3,"30"],[7.2,48.3,"30"],[4,36.2,"20"],[4,20.6,"10"],[3,16.7,"0"],[8.3,12,"−10"],[10,41.3,"10"],[10,39.2,"20"],[12,30.9,"40"],[12,28.8,"30"],[15,27,"20"],[15,24.6,"10"],[16,21.6,"0"],[20,55.2,"10"],[18,47.2,"20"],[21,47,"40"],[12,45.7,"0"],[20,39.3,"30"],[24,36,"30"],[25,31.2,"20"],[25,40.9,"20"],[27,40.9,"10"],[26,28.1,"10"],[22.2,26.6,"−10"],[26,26,"0"],[24.2,12.9,"−10"],[27,44.9,"0"],[29,48.5,"0"],[27,51.9,"10"],[30.2,54,"−10"],[31,35.4,"20"],[34,50.8,"10"],[36,43.9,"0"],[36,25.3,"10"],[37,16.6,"0"],[38,48.8,"30"],[41,47.7,"10"],[41,54.2,"0"],[42,35.6,"10"],[41,36.8,"20"],[42,31.1,"−10"],[42,18.2,"−10"],[47,51.9,"10"],[49,37,"20"],[49,29.7,"20"],[52,27,"0"],[54,28.1,"10"],[54,41.5,"0"],[57,40.8,"0"],[57,47,"20"],[59,49.8,"10"],[52.2,57.3,"−10"],[53,18.8,"−10"]];

const GREEN_LEVELS = ["30","40","50","60"];
const GREEN_COLORS = [G30,G40,G50,G60];

// ---------- helpers ----------
const BLACK = "#000000";
type Layer = { pts: P; fill?: string; w?: number; dash?: number[]; stroke?: string; straight?: boolean };
const many = (list: P[], fill: string, w = 0.9): Layer[] => list.map((pts) => ({ pts, fill, w }));
const solid = (list: P[], w = 0.9): Layer[] => list.map((pts) => ({ pts, w }));
const dashed = (list: P[]): Layer[] => list.map((pts) => ({ pts, w: 0.8, dash: [2, 2] }));

function toDatasets(layers: Layer[], tension: number) {
  return layers.map((l, i) => {
    const pts = l.fill ? [...l.pts, l.pts[0]] : l.pts;
    return {
      data: pts.map(([x, y]) => ({ x, y })),
      showLine: true,
      fill: l.fill ? "shape" : false,
      backgroundColor: l.fill || "transparent",
      borderColor: l.w ? l.stroke || BLACK : "transparent",
      borderWidth: l.w || 0,
      borderDash: l.dash || [],
      pointRadius: 0,
      tension: l.straight ? 0 : tension,
      order: layers.length - i,
    };
  });
}

type PanelCfg = {
  box: number[]; area: number[]; xr: number[]; yr: number[];
  xTicks: number[]; yTicks: number[];
  xFmt: (v: number) => string; yFmt: (v: number) => string;
  xFont: number; yFont: number; labelFont: string; xPad: number; tension: number;
  layers: Layer[]; labels: (number | string)[][];
  tag: [string, number, number];
  title?: [string, number, number]; xTitle?: [string, number, number];
  bar?: { x0: number; x1: number; y0: number; y1: number; first: number; last: number; levels: string[]; colors: string[]; font: string; };
  gridX?: boolean; gridY?: number[]; streak?: number[];
};

function panelPlugin(c: PanelCfg) {
  return {
    id: "panel",
    afterDatasetsDraw(chart: any) {
      const { ctx, chartArea: A, scales } = chart;
      const ox = c.box[0], oy = c.box[1];
      ctx.save();
      if (c.streak) {
        ctx.strokeStyle = "rgba(255,255,255,0.4)";
        ctx.lineWidth = 1;
        for (let y = c.streak[0] - oy; y < A.bottom; y += c.streak[1]) {
          ctx.beginPath(); ctx.moveTo(A.left, y); ctx.lineTo(A.right, y); ctx.stroke();
        }
      }
      ctx.font = c.labelFont;
      ctx.textAlign = "center";
      ctx.textBaseline = "middle";
      for (const [x, y, t] of c.labels) {
        const px = scales.x.getPixelForValue(x as number), py = scales.y.getPixelForValue(y as number);
        const w = ctx.measureText(String(t)).width;
        const h = parseInt(c.labelFont.match(/(\d+)px/)![1], 10);
        ctx.fillStyle = WHITE;
        ctx.fillRect(px - w / 2 - 1, py - h / 2, w + 2, h);
        ctx.fillStyle = BLACK;
        ctx.fillText(String(t), px, py + 0.5);
      }
      ctx.strokeStyle = BLACK;
      ctx.lineWidth = 1.6;
      ctx.strokeRect(A.left, A.top, A.right - A.left, A.bottom - A.top);
      ctx.fillStyle = BLACK;
      ctx.font = 'bold 22px "Liberation Serif"';
      ctx.fillText(c.tag[0], c.tag[1] - ox, c.tag[2] - oy);
      if (c.title) {
        ctx.font = '16px "DejaVu Sans"';
        (ctx as any).letterSpacing = "0.8px";
        ctx.fillText(c.title[0], c.title[1] - ox, c.title[2] - oy);
        (ctx as any).letterSpacing = "0px";
      }
      if (c.xTitle) {
        ctx.font = '16px "DejaVu Sans"';
        ctx.fillText(c.xTitle[0], c.xTitle[1] - ox, c.xTitle[2] - oy);
      }
      if (c.bar) {
        const b = c.bar, n = b.colors.length;
        const step = (b.last - b.first) / (b.levels.length - 1);
        const y0 = b.y0 - oy, y1 = b.y1 - oy, ym = (y0 + y1) / 2;
        ctx.lineWidth = 0.8;
        ctx.beginPath();
        ctx.moveTo(b.x0 - ox, ym); ctx.lineTo(b.first - ox, y0); ctx.lineTo(b.first - ox, y1); ctx.closePath();
        ctx.fillStyle = WHITE; ctx.fill(); ctx.stroke();
        for (let i = 0; i < n - 1; i++) {
          ctx.fillStyle = b.colors[i];
          const xa = b.first + i * step - ox;
          ctx.fillRect(xa, y0, step, y1 - y0);
          ctx.strokeRect(xa, y0, step, y1 - y0);
        }
        ctx.beginPath();
        ctx.moveTo(b.x1 - ox, ym); ctx.lineTo(b.last - ox, y0); ctx.lineTo(b.last - ox, y1); ctx.closePath();
        ctx.fillStyle = b.colors[n - 1]; ctx.fill(); ctx.stroke();
        ctx.fillStyle = BLACK;
        ctx.font = b.font;
        b.levels.forEach((t, i) => ctx.fillText(t, b.first + i * step - ox, y1 + 6));
      }
      ctx.restore();
    },
  };
}

const noPad = (s: any) => { s.paddingTop = 0; s.paddingBottom = 0; s.paddingLeft = 0; s.paddingRight = 0; };

function makePanel(canvas: HTMLCanvasElement, c: PanelCfg) {
  const [L, T, W, H] = c.box;
  const [x0, y0, x1, y1] = c.area;
  return new Chart(canvas, {
    type: "scatter",
    data: { datasets: toDatasets(c.layers, c.tension) as any },
    plugins: [panelPlugin(c) as any],
    options: {
      responsive: false, animation: false, events: [],
      layout: { padding: { left: 0, top: y0 - T, right: L + W - x1, bottom: 0 } },
      plugins: { legend: { display: false }, tooltip: { enabled: false } },
      scales: {
        x: {
          type: "linear", min: c.xr[0], max: c.xr[1],
          afterBuildTicks: (s: any) => { s.ticks = c.xTicks.map((value) => ({ value })); },
          afterFit: (s: any) => { s.height = T + H - y1; noPad(s); },
          border: { display: false, dash: c.gridX ? [1, 4] : [] },
          grid: { color: c.gridX ? "#777" : "transparent", drawOnChartArea: !!c.gridX, tickColor: BLACK, tickLength: 5 },
          ticks: { autoSkip: false, maxRotation: 0, minRotation: 0, color: BLACK, padding: c.xPad, font: { family: "Liberation Sans", size: c.xFont }, callback: (v: any) => c.xFmt(Number(v)) },
        },
        y: {
          type: "linear", min: c.yr[0], max: c.yr[1],
          afterBuildTicks: (s: any) => { s.ticks = c.yTicks.map((value) => ({ value })); },
          afterFit: (s: any) => { s.width = x0 - L; noPad(s); },
          border: { display: false, dash: c.gridY ? [1, 4] : [] },
          grid: {
            color: (ctx: any) => (c.gridY && c.gridY.includes(ctx.tick?.value) ? "#777" : "transparent"),
            tickColor: BLACK, tickLength: 5,
          },
          ticks: { autoSkip: false, color: BLACK, padding: 3, font: { family: "Liberation Sans", size: c.yFont }, callback: (v: any) => c.yFmt(Number(v)) },
        },
      },
    } as any,
  });
}

const latFmtEq = (v: number) => (v === 0 ? "EQ" : `${v}N`);
const latFmt = (v: number) => `${v}N`;
const dayFmt = (v: number) => dayLabels[dayTicks.indexOf(v)];

const panelA: PanelCfg = {
  box: [0, 0, 560, 395], area: [46, 15, 546, 361], xr: [1, 73], yr: [0, 60],
  xTicks: aPentTicks, yTicks: aLatTicks, xFmt: String, yFmt: latFmtEq, xFont: 14, yFont: 14, xPad: 1, tension: 0,
  labelFont: '13px "Liberation Sans"', tag: ["(a)", 82, 62], streak: [123.5, 11.7],
  layers: [
    { pts: a30L, fill: C10, w: 0.9 }, { pts: a35L, fill: C15 }, { pts: a35Patch, fill: C15 }, { pts: a40L, fill: C20, w: 0.9 },
    { pts: a45L, fill: C25 }, { pts: a50L, fill: C30, w: 0.9 }, { pts: a55L, fill: C35 }, { pts: a60L, fill: C40, w: 0.9 },
    { pts: a30R, fill: C10, w: 0.9 }, { pts: a35R, fill: C15 }, { pts: a40R, fill: C20, w: 0.9 }, { pts: a45R, fill: C25 },
    { pts: a50R, fill: C30, w: 0.9 }, { pts: a55R, fill: C35 }, { pts: a60R, fill: C40, w: 0.9 },
    ...solid(aLines10), ...solid(aLines20), { pts: aLine0, w: 0.9 }, ...dashed(aNeg), { pts: aOnset, w: 2.6 },
  ],
  labels: aLabels,
};

const panelB: PanelCfg = {
  box: [600, 0, 573, 400], area: [648, 14, 1168, 321], xr: [1, 73], yr: [18, 45],
  xTicks: aPentTicks, yTicks: bLatTicks, xFmt: String, yFmt: latFmt, xFont: 17, yFont: 16, xPad: 0, tension: 0.25,
  labelFont: 'bold 10px "Liberation Sans"', tag: ["(b)", 683, 50], gridX: true, gridY: bGridLat, streak: [21.7, 17.3],
  xTitle: ["Pentad", 908, 351],
  bar: { x0: 720, x1: 1121, y0: 374, y1: 381, first: 757, last: 1085, levels: bBarLevels, colors: bBarColors, font: 'bold 8px "Liberation Sans"' },
  layers: [
    { pts: b5, fill: C5, w: 0.9 }, ...many(bWhites, WHITE),
    { pts: b10, fill: C10, w: 0.9 }, ...many(b10Bits, C10), ...many(bBlueBits, C5), { pts: b15, fill: C15, w: 0.9 }, ...many(b15Bits, C15),
    { pts: b20, fill: C20, w: 0.9 }, ...many(b20Bits, C20), ...many(b15Holes, C15),
    { pts: b25, fill: C25, w: 0.9 }, ...many(b20Patches, C20), ...many(b25Bits, C25),
    { pts: b30, fill: C30, w: 0.9 }, ...many(b30Bits, C30), { pts: b35Blob, fill: C35, w: 0.9 }, { pts: b35, fill: C35, w: 0.9 },
    { pts: b40, fill: C40, w: 0.9 }, ...many(b40Bits, C40), { pts: b35Lens, fill: C35, w: 0.9 },
    { pts: b45A, fill: C45, w: 0.9 }, { pts: b45B, fill: C45, w: 0.9 }, ...many(b45Bits, C45),
    { pts: b50A, fill: C50, w: 0.9 }, { pts: b50B, fill: C50, w: 0.9 }, { pts: b50C, fill: C50, w: 0.9 }, { pts: b50D, fill: C50, w: 0.9 },
    { pts: bBand, w: 3 }, { pts: bBand2, w: 2.5 },
  ],
  labels: bLabels,
};

const panelD: PanelCfg = {
  box: [0, 855, 560, 425], area: [45, 888, 528, 1227], xr: [0, 60], yr: [10, 60],
  xTicks: dayTicks, yTicks: latTicks10, xFmt: dayFmt, yFmt: latFmt, xFont: 15, yFont: 14, xPad: 0, tension: 0.4,
  labelFont: '18px "Liberation Sans"', tag: ["(d)", 84, 917],
  title: ["Along 110−120E in 1983", 286, 871],
  bar: { x0: 180, x1: 393, y0: 1257, y1: 1265, first: 222, last: 351, levels: GREEN_LEVELS, colors: GREEN_COLORS, font: '10px "DejaVu Sans"' },
  layers: [
    { pts: d30Main, fill: G30, w: 0.9 }, { pts: d30Left, fill: G30, w: 0.9 }, { pts: d30Right, fill: G30, w: 0.9 },
    ...many(d40, G40), ...many(d50, G50), ...many(d60, G60), ...solid(dSolid), ...dashed(dDashed),
  ],
  labels: dLabels,
};

const panelE: PanelCfg = {
  box: [600, 855, 573, 425], area: [652, 886, 1143, 1232], xr: [0, 60], yr: [10, 60],
  xTicks: dayTicks, yTicks: latTicks10, xFmt: dayFmt, yFmt: latFmt, xFont: 15, yFont: 14, xPad: 0, tension: 0.4,
  labelFont: '18px "Liberation Sans"', tag: ["(e)", 690, 917],
  title: ["Along 110−120E in 2002", 902, 871],
  bar: { x0: 792, x1: 1008, y0: 1260, y1: 1268, first: 835, last: 968, levels: GREEN_LEVELS, colors: GREEN_COLORS, font: '10px "DejaVu Sans"' },
  layers: [
    ...many(e30, G30), ...many(e40, G40), ...solid(eSolid), ...dashed(eDashed),
  ],
  labels: eLabels,
};

// panel (c) draws its own frame, zero line and legend on top of the bars
const cOverlay = {
  id: "cOverlay",
  afterDatasetDraw(chart: any, args: any) {
    if (args.index !== 0) return;
    const { ctx, chartArea: A, scales } = chart;
    const y0 = scales.y.getPixelForValue(0);
    ctx.save();
    ctx.strokeStyle = BLACK;
    ctx.lineWidth = 2;
    ctx.beginPath(); ctx.moveTo(A.left, y0); ctx.lineTo(A.right, y0); ctx.stroke();
    ctx.lineWidth = 1;
    const step = (A.right - A.left) / cYears.length;
    for (let i = 1; i < cYears.length; i++) {
      const x = A.left + i * step;
      ctx.beginPath(); ctx.moveTo(x, y0); ctx.lineTo(x, y0 + 6); ctx.stroke();
    }
    ctx.restore();
  },
  afterDatasetsDraw(chart: any) {
    const { ctx, chartArea: A } = chart;
    ctx.save();
    ctx.strokeStyle = BLACK;
    ctx.lineWidth = 1.4;
    ctx.strokeRect(A.left, A.top, A.right - A.left, A.bottom - A.top);
    ctx.font = 'bold 22px "Liberation Serif"';
    ctx.fillStyle = BLACK;
    ctx.textBaseline = "middle";
    ctx.textAlign = "center";
    ctx.fillText("(c)", A.left + 40, A.top + 52);
    const lx = A.left + 114, rows = [28, 65, 102, 138];
    ctx.textAlign = "left";
    ctx.font = '17px "Open Sans"';
    cLegend.forEach((t, i) => { ctx.fillStyle = "#1a1a1a"; ctx.fillText(t, lx + 11, A.top + rows[i] + 1); });
    const my = (i: number) => A.top + rows[i];
    ctx.lineWidth = 1;
    ctx.fillStyle = "#4f81bd"; ctx.fillRect(lx - 6, my(0) - 6, 13, 12); ctx.strokeRect(lx - 6, my(0) - 6, 13, 12);
    ctx.fillStyle = WHITE; ctx.fillRect(lx - 6, my(1) - 6, 13, 12); ctx.strokeRect(lx - 6, my(1) - 6, 13, 12);
    ctx.fillStyle = "#ff0000"; ctx.strokeStyle = "#7a5fa8";
    ctx.beginPath(); ctx.moveTo(lx, my(2) - 7); ctx.lineTo(lx + 6, my(2)); ctx.lineTo(lx, my(2) + 7); ctx.lineTo(lx - 6, my(2)); ctx.closePath(); ctx.fill(); ctx.stroke();
    ctx.fillStyle = "#9bbb59"; ctx.strokeStyle = BLACK;
    ctx.beginPath(); ctx.moveTo(lx, my(3) - 7); ctx.lineTo(lx + 7, my(3) + 7); ctx.lineTo(lx - 7, my(3) + 7); ctx.closePath(); ctx.fill(); ctx.stroke();
    ctx.restore();
  },
};

function makeBar(canvas: HTMLCanvasElement) {
  const L = 160, T = 410, W = 820, H = 430, x0 = 233, y0 = 425, x1 = 970, y1 = 793;
  return new Chart(canvas, {
    type: "bar",
    data: {
      labels: cYears,
      datasets: [
        { label: cLegend[0], data: cDeparture, backgroundColor: "#4f81bd", borderColor: "#1b2f4a", borderWidth: 1.2, order: 3 },
        { label: cLegend[1], data: cStd, backgroundColor: WHITE, borderColor: BLACK, borderWidth: 1.2, order: 3 },
        { type: "line", label: cLegend[2], data: cMeanDep, showLine: false, pointStyle: "rectRot", pointRadius: 7.5, pointBackgroundColor: "#ff0000", pointBorderColor: "#7a5fa8", pointBorderWidth: 1, order: 1 },
        { type: "line", label: cLegend[3], data: cMeanStd, showLine: false, pointStyle: "triangle", pointRadius: 8.5, pointBackgroundColor: "#9bbb59", pointBorderColor: BLACK, pointBorderWidth: 1, order: 2 },
      ] as any,
    },
    plugins: [cOverlay as any],
    options: {
      responsive: false, animation: false, events: [],
      layout: { padding: { left: 0, top: y0 - T, right: L + W - x1, bottom: 0 } },
      plugins: { legend: { display: false }, tooltip: { enabled: false } },
      datasets: { bar: { categoryPercentage: 0.6, barPercentage: 1 } },
      scales: {
        x: {
          afterFit: (s: any) => { s.height = T + H - y1; noPad(s); },
          border: { display: false },
          grid: { display: false },
          ticks: { autoSkip: false, maxRotation: 0, color: "#111", padding: 18, font: { family: "Open Sans", size: 17 } },
        },
        y: {
          min: -4, max: 10,
          afterFit: (s: any) => { s.width = x0 - L; noPad(s); },
          border: { display: false },
          grid: { drawOnChartArea: false, tickColor: BLACK, tickLength: 8 },
          ticks: { stepSize: 2, color: "#111", padding: 18, font: { family: "Liberation Sans", size: 20 }, callback: (v: any) => Number(v).toFixed(1) },
        },
      },
    } as any,
  });
}

const PANELS = [panelA, panelB, panelD, panelE];
const C_BOX = [160, 410, 820, 430];

export default function App() {
  const refs = useRef<(HTMLCanvasElement | null)[]>([]);
  const barRef = useRef<HTMLCanvasElement | null>(null);
  useEffect(() => {
    const charts = PANELS.map((p, i) => makePanel(refs.current[i]!, p));
    charts.push(makeBar(barRef.current!) as any);
    return () => charts.forEach((c) => c.destroy());
  }, []);
  const place = (b: number[]) => ({ position: "absolute" as const, left: b[0], top: b[1], width: b[2], height: b[3] });
  return (
    <div style={{ position: "absolute", left: 0, top: 0, width: 1173, height: 1280, background: "#fff", overflow: "hidden" }}>
      {PANELS.map((p, i) => (
        <canvas key={i} ref={(el) => { refs.current[i] = el; }} width={p.box[2]} height={p.box[3]} style={place(p.box)} />
      ))}
      <canvas ref={barRef} width={C_BOX[2]} height={C_BOX[3]} style={place(C_BOX)} />
    </div>
  );
}
